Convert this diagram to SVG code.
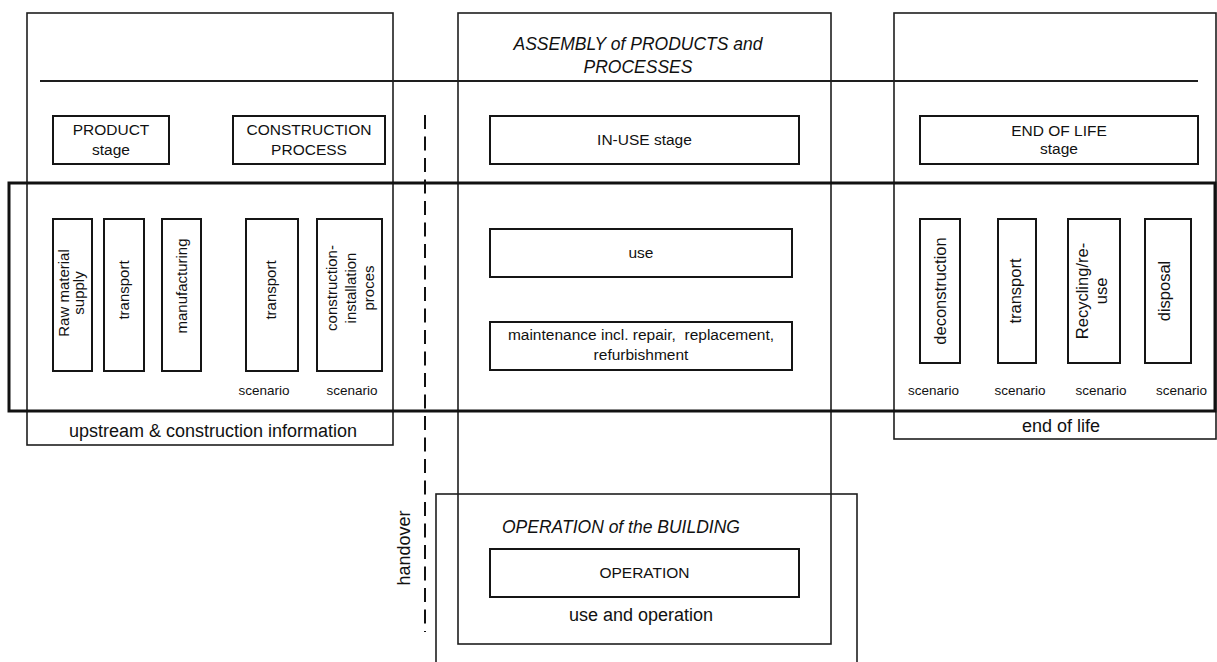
<svg xmlns="http://www.w3.org/2000/svg" width="1217" height="662" viewBox="0 0 1217 662">
<style>
.frame{fill:none;stroke:#1e1e1e;stroke-width:1.6}
.thick{fill:none;stroke:#111;stroke-width:3}
.box{fill:#fff;stroke:#151515;stroke-width:2}
.t{font-family:"Liberation Sans",Arial,sans-serif;fill:#111}
.s{font-size:15.5px}
.v{font-size:15px}
.vr{font-size:16.5px}
.sc{font-size:13.5px}
.l{font-size:18px}
.it{font-size:17.5px;font-style:italic}
.pre{white-space:pre}
</style>
<rect width="1217" height="662" fill="#fff"/>
<g id="frames">
<rect id="left-frame" class="frame" x="27" y="13" width="366" height="432"/>
<rect id="middle-frame" class="frame" x="458" y="13" width="373" height="631"/>
<rect id="right-frame" class="frame" x="894" y="13" width="322" height="426"/>
<rect id="operation-frame" class="frame" x="436" y="494" width="421" height="190"/>
<rect id="band" class="thick" x="9" y="183" width="1206" height="228"/>
</g>
<g id="connectors">
<line x1="40" y1="81" x2="1198" y2="81" stroke="#1e1e1e" stroke-width="1.8"/>
<line x1="425" y1="115" x2="425" y2="632" stroke="#111" stroke-width="2" stroke-dasharray="14 7.5"/>
</g>
<g id="title-assembly" class="t it" text-anchor="middle">
<text x="638" y="50">ASSEMBLY of PRODUCTS and</text>
<text x="638" y="73">PROCESSES</text>
</g>
<g id="product-stage">
<rect class="box" x="53" y="116" width="116" height="48"/>
<text class="t s" x="111" y="135" text-anchor="middle">PRODUCT</text>
<text class="t s" x="111" y="155" text-anchor="middle">stage</text>
</g>
<g id="construction-process">
<rect class="box" x="233" y="116" width="152" height="48"/>
<text class="t s" x="309" y="135" text-anchor="middle">CONSTRUCTION</text>
<text class="t s" x="309" y="155" text-anchor="middle">PROCESS</text>
</g>
<g id="in-use-stage">
<rect class="box" x="490" y="116" width="309" height="48"/>
<text class="t s" x="644.5" y="145" text-anchor="middle">IN-USE stage</text>
</g>
<g id="end-of-life-stage">
<rect class="box" x="920" y="116" width="278" height="48"/>
<text class="t s" x="1059" y="136" text-anchor="middle">END OF LIFE</text>
<text class="t s" x="1059" y="154" text-anchor="middle">stage</text>
</g>
<g id="raw-material">
<rect class="box" x="53" y="219" width="39" height="152"/>
<text class="t v" transform="translate(0,293) rotate(-90)" text-anchor="middle"><tspan x="0" y="69">Raw material</tspan><tspan x="0" y="84">supply</tspan></text>
</g>
<g id="transport-a1">
<rect class="box" x="104" y="219" width="40" height="152"/>
<text class="t v" transform="translate(0,290) rotate(-90)" text-anchor="middle" x="0" y="129">transport</text>
</g>
<g id="manufacturing">
<rect class="box" x="162" y="219" width="39" height="152"/>
<text class="t v" transform="translate(0,286) rotate(-90)" text-anchor="middle" x="0" y="187">manufacturing</text>
</g>
<g id="transport-a4">
<rect class="box" x="246" y="219" width="52" height="152"/>
<text class="t v" transform="translate(0,290) rotate(-90)" text-anchor="middle" x="0" y="276">transport</text>
<text class="t sc" x="264" y="395" text-anchor="middle">scenario</text>
</g>
<g id="construction-installation">
<rect class="box" x="317" y="219" width="65" height="152"/>
<text class="t v" transform="translate(0,288) rotate(-90)" text-anchor="middle"><tspan x="0" y="337">construction-</tspan><tspan x="0" y="356">installation</tspan><tspan x="0" y="374">proces</tspan></text>
<text class="t sc" x="352" y="395" text-anchor="middle">scenario</text>
</g>
<g id="use">
<rect class="box" x="490" y="229" width="302" height="48"/>
<text class="t s" x="641" y="258" text-anchor="middle">use</text>
</g>
<g id="maintenance">
<rect class="box" x="490" y="322" width="302" height="48"/>
<text class="t s pre" x="641" y="340" text-anchor="middle">maintenance incl. repair,  replacement,</text>
<text class="t s" x="641" y="360" text-anchor="middle">refurbishment</text>
</g>
<g id="deconstruction">
<rect class="box" x="920" y="219" width="40" height="144"/>
<text class="t vr" transform="translate(0,291) rotate(-90)" text-anchor="middle" x="0" y="946">deconstruction</text>
<text class="t sc" x="933.5" y="395" text-anchor="middle">scenario</text>
</g>
<g id="transport-c2">
<rect class="box" x="998" y="219" width="38" height="144"/>
<text class="t vr" transform="translate(0,291) rotate(-90)" text-anchor="middle" x="0" y="1021">transport</text>
<text class="t sc" x="1020" y="395" text-anchor="middle">scenario</text>
</g>
<g id="recycling">
<rect class="box" x="1068" y="219" width="52" height="144"/>
<text class="t vr" transform="translate(0,291) rotate(-90)" text-anchor="middle"><tspan x="0" y="1088">Recycling/re-</tspan><tspan x="0" y="1107">use</tspan></text>
<text class="t sc" x="1101" y="395" text-anchor="middle">scenario</text>
</g>
<g id="disposal">
<rect class="box" x="1145" y="219" width="46" height="144"/>
<text class="t vr" transform="translate(0,291) rotate(-90)" text-anchor="middle" x="0" y="1170">disposal</text>
<text class="t sc" x="1181.5" y="395" text-anchor="middle">scenario</text>
</g>
<g id="upstream-info">
<text class="t l" x="213" y="437" text-anchor="middle">upstream &amp; construction information</text>
</g>
<g id="end-of-life-info">
<text class="t l" x="1061" y="432" text-anchor="middle">end of life</text>
</g>
<g id="operation-building">
<text class="t it" x="502" y="533">OPERATION of the BUILDING</text>
<rect class="box" x="490" y="549" width="309" height="48"/>
<text class="t s" x="644.5" y="578" text-anchor="middle">OPERATION</text>
<text class="t l" x="641" y="621" text-anchor="middle">use and operation</text>
</g>
<g id="handover">
<text class="t l" transform="translate(0,548) rotate(-90)" text-anchor="middle" x="0" y="410">handover</text>
</g>
</svg>
